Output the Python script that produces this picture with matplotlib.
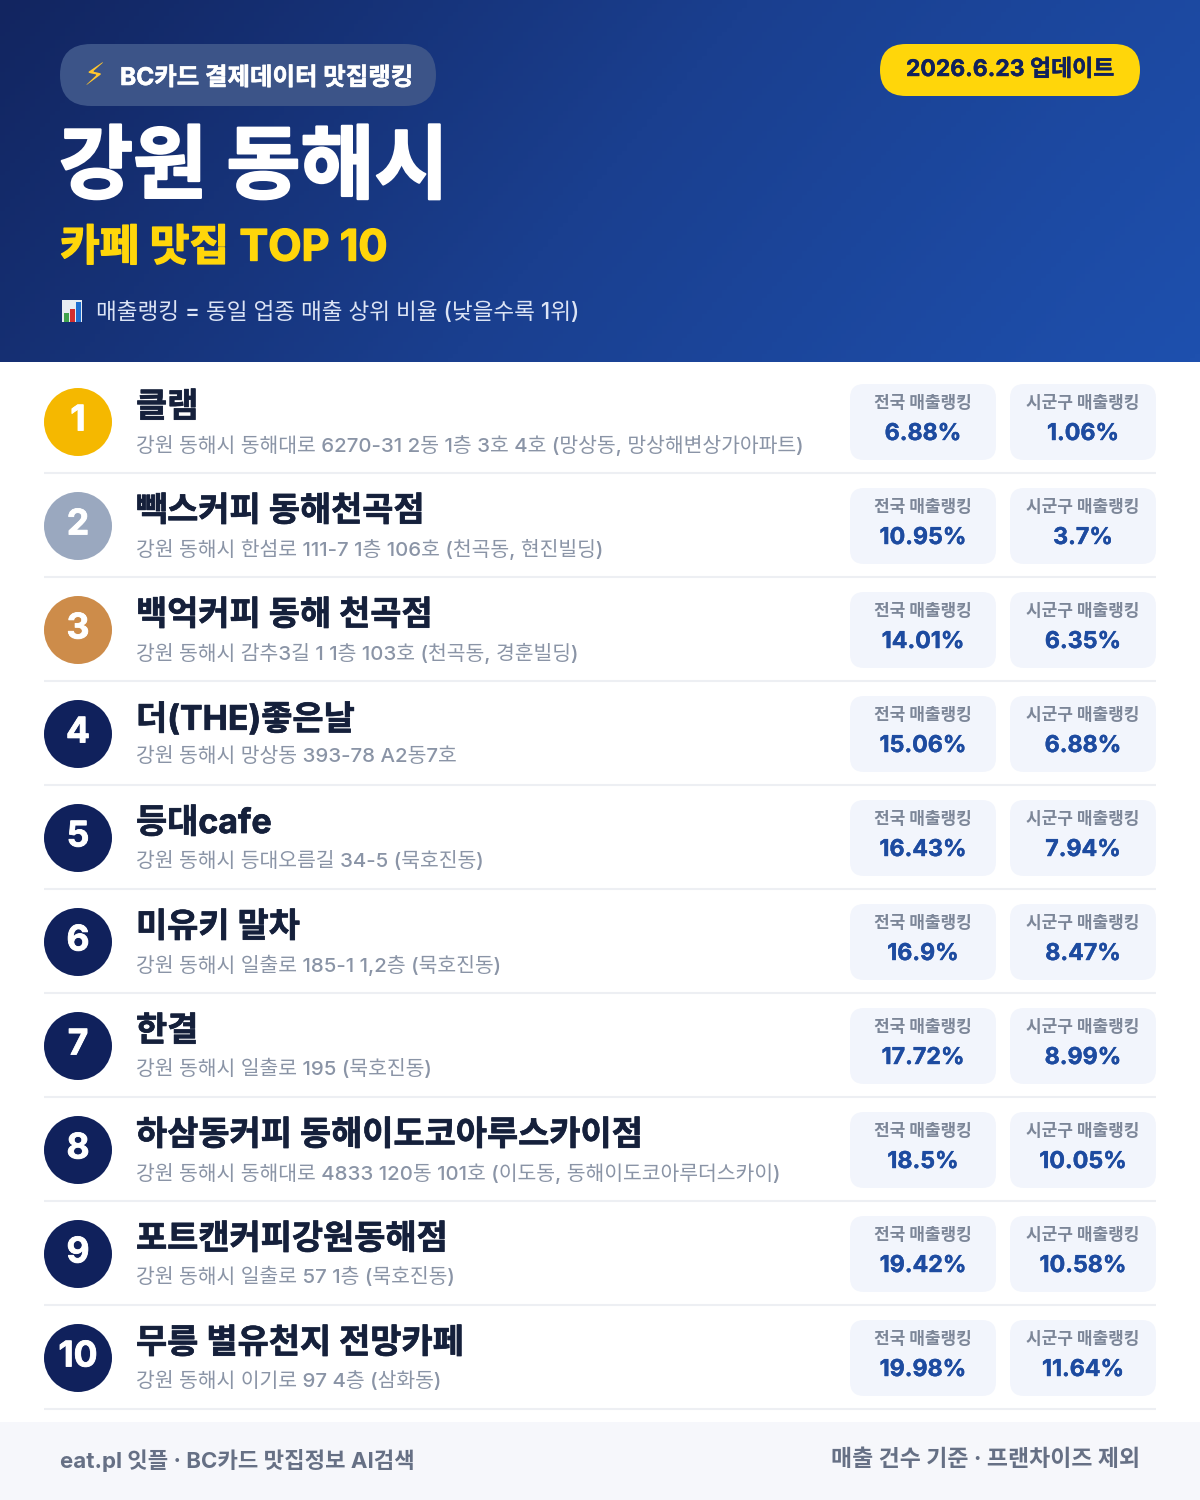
import numpy as np
import matplotlib
matplotlib.use("Agg")
import matplotlib.pyplot as plt
import matplotlib.patheffects as pe
from matplotlib.patches import FancyBboxPatch, Circle, Rectangle
from matplotlib.colors import LinearSegmentedColormap

FONT = ['Inter', 'Noto Sans CJK KR', 'DejaVu Sans']
plt.rcParams['font.family'] = FONT

names = ["클램", "빽스커피 동해천곡점", "백억커피 동해 천곡점", "더(THE)좋은날", "등대cafe",
         "미유키 말차", "한결", "하삼동커피 동해이도코아루스카이점", "포트캔커피강원동해점", "무릉 별유천지 전망카페"]
addresses = ["강원 동해시 동해대로 6270-31 2동 1층 3호 4호 (망상동, 망상해변상가아파트)",
             "강원 동해시 한섬로 111-7 1층 106호 (천곡동, 현진빌딩)",
             "강원 동해시 감추3길 1 1층 103호 (천곡동, 경훈빌딩)",
             "강원 동해시 망상동 393-78 A2동7호",
             "강원 동해시 등대오름길 34-5 (묵호진동)",
             "강원 동해시 일출로 185-1 1,2층 (묵호진동)",
             "강원 동해시 일출로 195 (묵호진동)",
             "강원 동해시 동해대로 4833 120동 101호 (이도동, 동해이도코아루더스카이)",
             "강원 동해시 일출로 57 1층 (묵호진동)",
             "강원 동해시 이기로 97 4층 (삼화동)"]
national = ["6.88%", "10.95%", "14.01%", "15.06%", "16.43%", "16.9%", "17.72%", "18.5%", "19.42%", "19.98%"]
local = ["1.06%", "3.7%", "6.35%", "6.88%", "7.94%", "8.47%", "8.99%", "10.05%", "10.58%", "11.64%"]
badge_colors = ["#F5B800", "#9AA8BF", "#CD8C4A"] + ["#10215C"] * 7

fig = plt.figure(figsize=(12, 15), dpi=100)
ax = fig.add_axes([0, 0, 1, 1])
ax.set_xlim(0, 1200); ax.set_ylim(1500, 0); ax.axis('off')

cmap = LinearSegmentedColormap.from_list('h', ['#122560', '#1A3F8F', '#1E50AE'])
yy, xx = np.mgrid[0:1:91j, 0:1:241j]
ax.imshow(xx * 0.8 + yy * 0.2, cmap=cmap, extent=(0, 1200, 362, 0), aspect='auto', zorder=0, vmin=0, vmax=1)
ax.set_xlim(0, 1200); ax.set_ylim(1500, 0)

def box(x, y, w, h, r, fc, z=1, alpha=None):
    ax.add_patch(FancyBboxPatch((x + r, y + r), w - 2 * r, h - 2 * r, boxstyle=f"round,pad={r},rounding_size={r}",
                                fc=fc, ec='none', zorder=z, alpha=alpha))

def T(x, y, s, size, color, weight='bold', ha='left', stroke=0):
    t = ax.text(x, y, s, fontsize=size, color=color, fontweight=weight, ha=ha, va='center', zorder=5, family=FONT)
    if stroke:
        t.set_path_effects([pe.withStroke(linewidth=stroke, foreground=color)])
    return t

box(60, 44, 376, 62, 31, '#3C5488')
T(83, 77, "⚡", 22, '#FFC62E', 'normal')
T(120, 78.5, "BC카드 결제데이터 맛집랭킹", 17.6, 'white', 'bold', stroke=0.4)
box(880, 44, 260, 52, 26, '#FFD60A')
T(1010, 70, "2026.6.23 업데이트", 16.5, '#10215C', 'bold', ha='center', stroke=0.3)
T(59, 171, "강원 동해시", 58, 'white', 'bold', stroke=1.6)
T(60, 249, "카페 맛집 TOP 10", 31.1, '#FFD60A', 'bold', stroke=1)
T(96, 313, "매출랭킹 = 동일 업종 매출 상위 비율 (낮을수록 1위)", 16.25, '#DCE4F5', 'medium')
ax.add_patch(Rectangle((62, 300), 20, 22, fc='#E8EDF2', ec='none', zorder=4))
for bx, top, c in [(64, 313, '#3FA34D'), (70, 309, '#D32F2F'), (76, 302, '#1E6FD0')]:
    ax.add_patch(Rectangle((bx, top), 5, 322 - top, fc=c, ec='none', zorder=5))

row_h = 104
for i in range(10):
    top = 384 + i * row_h
    ax.add_patch(Circle((78, top + 38), 34, fc=badge_colors[i], ec='none', zorder=3))
    T(78, top + 37, str(i + 1), 25.5, 'white', ha='center', stroke=0.6)
    T(136, top + 24, names[i], 24.4, '#15203B', 'bold', stroke=0.5)
    T(136, top + 61, addresses[i], 14.72, '#8A94A6', 'medium')
    for x, w, lab, val in [(850, 146, "전국 매출랭킹", national[i]), (1010, 146, "시군구 매출랭킹", local[i])]:
        box(x, top, w, 76, 14, '#F2F5FC', 2)
        T(x + w / 2, top + 19, lab, 12.25, '#7C8698', ha='center')
        T(x + w / 2, top + 50, val, 16.7, '#1D4BA0', ha='center', stroke=0.3)
    ax.plot([44, 1156], [top + 89, top + 89], color='#EDEFF3', lw=1.5, zorder=2, solid_capstyle='butt')

ax.add_patch(Rectangle((0, 1422), 1200, 78, fc='#F6F7FB', ec='none', zorder=1))
T(60, 1460.5, "eat.pl 잇플 · BC카드 맛집정보 AI검색", 16.0, '#667085')
T(1140, 1460.5, "매출 건수 기준 · 프랜차이즈 제외", 16.5, '#667085', ha='right')

fig.savefig('out.png', dpi=100)
